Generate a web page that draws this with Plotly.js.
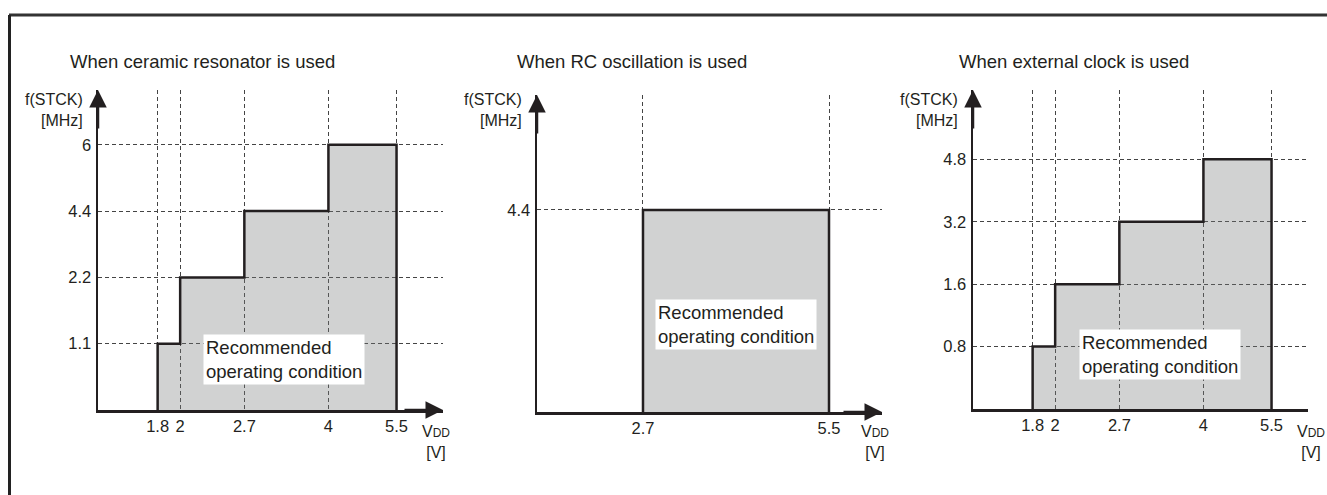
<!DOCTYPE html>
<html>
<head>
<meta charset="utf-8">
<script src="https://cdn.plot.ly/plotly-3.0.1.min.js"></script>
<style>
  html, body { margin: 0; padding: 0; background: #fff; }
  #chart { width: 1327px; height: 495px; }
</style>
</head>
<body>
<div id="chart"></div>
<script>
// values
const ceramicVdd = [1.8, 2, 2.7, 4, 5.5];
const ceramicFreq = [1.1, 2.2, 4.4, 6];

const rcVdd = [2.7, 5.5];
const rcFreq = [4.4];

const extVdd = [1.8, 2, 2.7, 4, 5.5];
const extFreq = [0.8, 1.6, 3.2, 4.8];

const titles = [
  "When ceramic resonator is used",
  "When RC oscillation is used",
  "When external clock is used"
];

const W = 1327, H = 495;
const INK = "#231f20";
const FONT = "Liberation Sans, Arial, sans-serif";
const px = v => v / W;
const py = v => 1 - v / H;

// step outline: f levels are drawn as equally spaced steps (level index), V on a log scale
function stepOutline(vdd, freq) {
  const xs = [vdd[0]], ys = [0];
  freq.forEach((f, i) => {
    xs.push(vdd[i], vdd[i + 1]);
    ys.push(i + 1, i + 1);
  });
  xs.push(vdd[vdd.length - 1]);
  ys.push(0);
  return {xs, ys};
}

const panels = [
  {vdd: ceramicVdd, freq: ceramicFreq, dx: [98, 443], dy: [90, 410], xr: [0.1342, 0.8347], ytop: 4.826,
   titleX: 68, ylabX: 83, vddX: 436, box: [203, 334], xArrow: true},
  {vdd: rcVdd, freq: rcFreq, dx: [537, 882], dy: [95, 412], xr: [0.2553, 0.8284], ytop: 1.569,
   titleX: 515, ylabX: 522, vddX: 875, box: [655, 299], xArrow: true},
  {vdd: extVdd, freq: extFreq, dx: [973, 1308], dy: [90, 409], xr: [0.1342, 0.8144], ytop: 5.11,
   titleX: 957, ylabX: 958, vddX: 1311, box: [1079, 329], xArrow: false}
];

const data = [];
const layout = {
  width: W, height: H,
  margin: {l: 0, r: 0, t: 0, b: 0},
  paper_bgcolor: "#fff", plot_bgcolor: "rgba(0,0,0,0)",
  showlegend: false,
  font: {family: FONT, color: INK, size: 16},
  annotations: [],
  shapes: [
    {type: "line", xref: "paper", yref: "paper", x0: px(9), x1: 1, y0: py(15), y1: py(15),
     line: {color: "#333", width: 3}},
    {type: "line", xref: "paper", yref: "paper", x0: px(9.5), x1: px(9.5), y0: py(15), y1: 0,
     line: {color: "#222", width: 3}}
  ]
};

panels.forEach((p, k) => {
  const n = k === 0 ? "" : String(k + 1);
  const xa = "x" + n, ya = "y" + n;
  const o = stepOutline(p.vdd, p.freq);

  data.push({
    type: "scatter", mode: "lines", xaxis: xa, yaxis: ya,
    x: o.xs, y: o.ys, fill: "toself",
    fillcolor: "rgba(120,122,124,0.34)",
    line: {color: INK, width: 2.5}, hoverinfo: "skip"
  });

  layout["xaxis" + n] = {
    type: "log", domain: [px(p.dx[0]), px(p.dx[1])], range: p.xr, anchor: ya,
    tickmode: "array", tickvals: p.vdd, ticktext: p.vdd.map(String),
    showgrid: true, gridcolor: "#444", gridwidth: 1, griddash: "4px,3px",
    showline: true, linecolor: INK, linewidth: 2.5, zeroline: false,
    ticks: "", ticklabelstandoff: 0, tickfont: {size: 16.5, color: INK}, fixedrange: true
  };
  layout["yaxis" + n] = {
    domain: [py(p.dy[1]), py(p.dy[0])], range: [0, p.ytop], anchor: xa,
    tickmode: "array", tickvals: p.freq.map((f, i) => i + 1), ticktext: p.freq.map(String),
    showgrid: true, gridcolor: "#444", gridwidth: 1, griddash: "4px,3px",
    showline: true, linecolor: INK, linewidth: 2.5, zeroline: false,
    ticks: "", ticklabelstandoff: 1, tickfont: {size: 16.5, color: INK}, fixedrange: true
  };

  const A = layout.annotations;
  // panel title
  A.push({xref: "paper", yref: "paper", x: px(p.titleX), y: py(61), xanchor: "left", yanchor: "middle",
          text: titles[k], showarrow: false, font: {size: 18.5, color: INK}});
  // y axis label
  A.push({xref: "paper", yref: "paper", x: px(p.ylabX + 2), y: py(110), xanchor: "right", yanchor: "middle",
          align: "right", text: "f(STCK)<br>[MHz]", showarrow: false, font: {size: 16, color: INK}});
  // x axis label
  A.push({xref: "paper", yref: "paper", x: px(p.vddX), y: py(442), xanchor: "center", yanchor: "middle",
          align: "center", text: "V<span style=\"font-size:12px\">DD</span><br>[V]", showarrow: false,
          font: {size: 16, color: INK}});
  // region label
  A.push({xref: "paper", yref: "paper", x: px(p.box[0]), y: py(p.box[1]), xanchor: "left", yanchor: "top",
          align: "left", text: "Recommended<br>operating condition", showarrow: false,
          bgcolor: "#fff", borderpad: 2, font: {size: 18.5, color: INK}});
  // axis arrow heads
  A.push({xref: xa + " domain", yref: ya + " domain", x: 0, y: 1, ax: 0, ay: 40, text: "",
          showarrow: true, arrowhead: 2, arrowsize: 1.4, arrowwidth: 2.5, arrowcolor: INK, standoff: 0});
  if (p.xArrow) {
    A.push({xref: xa + " domain", yref: ya + " domain", x: 1, y: 0, ax: -40, ay: 0, text: "",
            showarrow: true, arrowhead: 2, arrowsize: 1.4, arrowwidth: 2.5, arrowcolor: INK, standoff: 0});
  }
});

Plotly.newPlot("chart", data, layout, {displayModeBar: false, staticPlot: true});
</script>
</body>
</html>
